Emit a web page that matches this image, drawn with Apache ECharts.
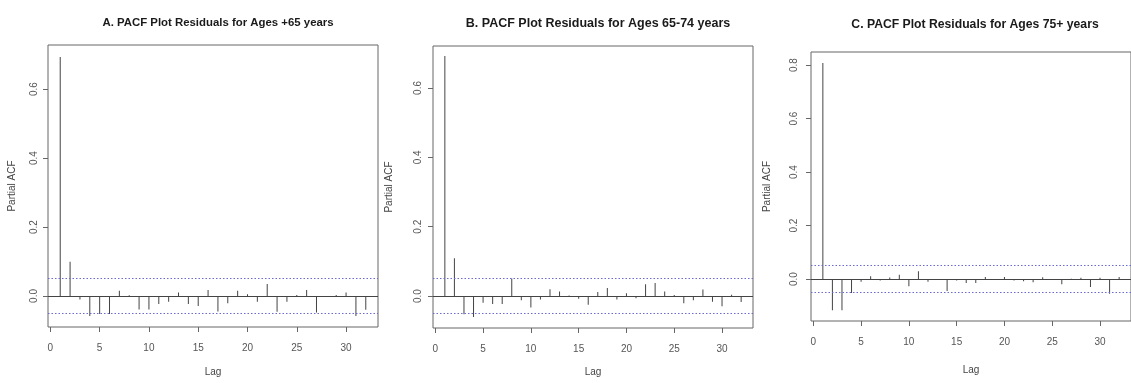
<!DOCTYPE html>
<html>
<head>
<meta charset="utf-8">
<script src="https://cdn.jsdelivr.net/npm/echarts@6/dist/echarts.min.js"></script>
<style>
html,body{margin:0;padding:0;background:#fff;}
#chart{width:1131px;height:383px;}
</style>
</head>
<body>
<div id="chart"></div>
<script>
const lags = [1,2,3,4,5,6,7,8,9,10,11,12,13,14,15,16,17,18,19,20,21,22,23,24,25,26,27,28,29,30,31,32];
const pacfA = [0.693,0.099,-0.010,-0.058,-0.052,-0.052,0.015,0.002,-0.039,-0.039,-0.023,-0.017,0.010,-0.023,-0.029,0.017,-0.045,-0.021,0.015,0.005,-0.017,0.035,-0.046,-0.017,0.003,0.017,-0.048,-0.003,0.003,0.010,-0.058,-0.040];
const pacfB = [0.692,0.109,-0.052,-0.060,-0.019,-0.023,-0.023,0.051,-0.012,-0.033,-0.010,0.020,0.013,0.002,-0.008,-0.025,0.012,0.023,-0.010,0.008,-0.006,0.034,0.038,0.013,0.003,-0.021,-0.012,0.019,-0.016,-0.029,0.004,-0.017];
const pacfC = [0.808,-0.117,-0.117,-0.052,-0.010,0.010,-0.006,0.006,0.016,-0.027,0.029,-0.010,-0.003,-0.045,-0.006,-0.015,-0.015,0.008,-0.002,0.008,-0.006,-0.008,-0.012,0.007,-0.002,-0.020,0.001,0.005,-0.030,0.005,-0.055,0.008];
const confA = 0.046, confB = 0.046, confC = 0.049;
const titles = ['A. PACF Plot Residuals for Ages +65 years','B. PACF Plot Residuals for Ages 65-74 years','C. PACF Plot Residuals for Ages 75+ years'];
const xTicks = [0,5,10,15,20,25,30];
const yTicksAB = [0,0.2,0.4,0.6];
const yTicksC = [0,0.2,0.4,0.6,0.8];
const yName = 'Partial ACF';
const xName = 'Lag';

const panels = [
  {vals: pacfA, conf: confA, yTicks: yTicksAB, grid:{left:48, top:45, width:330, height:282}, ymin:-0.09, ymax:0.728, xmin:-0.24, xmax:33.24, ylabGap:9, yNameGap:31, xNameGap:40, xLabMargin:16, title:{x:213,y:12,size:11.4}},
  {vals: pacfB, conf: confB, yTicks: yTicksAB, grid:{left:433, top:46, width:320, height:282}, ymin:-0.092, ymax:0.721, xmin:-0.24, xmax:33.24, ylabGap:10, yNameGap:39, xNameGap:39, xLabMargin:16, title:{x:593,y:12,size:12.5}},
  {vals: pacfC, conf: confC, yTicks: yTicksC, grid:{left:811, top:52, width:321, height:269}, ymin:-0.157, ymax:0.849, xmin:-0.24, xmax:33.24, ylabGap:12, yNameGap:39, xNameGap:44, xLabMargin:16, title:{x:970,y:14,size:12.2}}
];

const font = 'Liberation Sans, Arial, sans-serif';
const option = {
  animation: false,
  backgroundColor: '#fff',
  title: panels.map((p,i)=>({
    text: titles[i], left: p.title.x, top: p.title.y, textAlign: 'center',
    textStyle: {fontFamily: font, fontWeight: 'bold', fontSize: p.title.size, color: '#1a1a1a'}
  })),
  grid: panels.map(p=>Object.assign({show:true, borderColor:'#666', borderWidth:1, backgroundColor:'transparent', containLabel:false}, p.grid)),
  xAxis: panels.map((p,i)=>({
    type:'value', gridIndex:i, min:p.xmin, max:p.xmax,
    name: xName, nameLocation:'middle', nameGap:p.xNameGap,
    nameTextStyle:{fontFamily:font, fontSize:10, color:'#444'},
    axisLine:{show:false, onZero:false},
    axisTick:{show:true, length:5, lineStyle:{color:'#666'}, customValues:xTicks},
    axisLabel:{show:true, fontFamily:font, fontSize:10, color:'#555', margin:p.xLabMargin, customValues:xTicks},
    splitLine:{show:false}
  })),
  yAxis: panels.map((p,i)=>({
    type:'value', gridIndex:i, min:p.ymin, max:p.ymax,
    name: yName, nameLocation:'middle', nameGap:p.yNameGap, nameRotate:90,
    nameTextStyle:{fontFamily:font, fontSize:10, color:'#444'},
    axisLine:{show:false, onZero:false},
    axisTick:{show:true, length:5, lineStyle:{color:'#666'}, customValues:p.yTicks},
    axisLabel:{show:true, rotate:90, fontFamily:font, fontSize:10, color:'#555', margin:p.ylabGap, customValues:p.yTicks, formatter:v=>v.toFixed(1)},
    splitLine:{show:false}
  })),
  series: panels.map((p,i)=>({
    type:'bar', xAxisIndex:i, yAxisIndex:i, barWidth:1,
    itemStyle:{color:'#444'},
    data: lags.map((l,k)=>[l, p.vals[k]]),
    silent:true,
    markLine:{
      silent:true, symbol:'none', label:{show:false},
      data:[
        {yAxis:0, lineStyle:{color:'#444', type:'solid', width:1}},
        {yAxis:p.conf, lineStyle:{color:'#6a6ad0', type:[1.5,2], width:1.2}},
        {yAxis:-p.conf, lineStyle:{color:'#6a6ad0', type:[1.5,2], width:1.2}}
      ]
    }
  }))
};
const chart = echarts.init(document.getElementById('chart'), null, {renderer:'canvas'});
chart.setOption(option);
</script>
</body>
</html>
